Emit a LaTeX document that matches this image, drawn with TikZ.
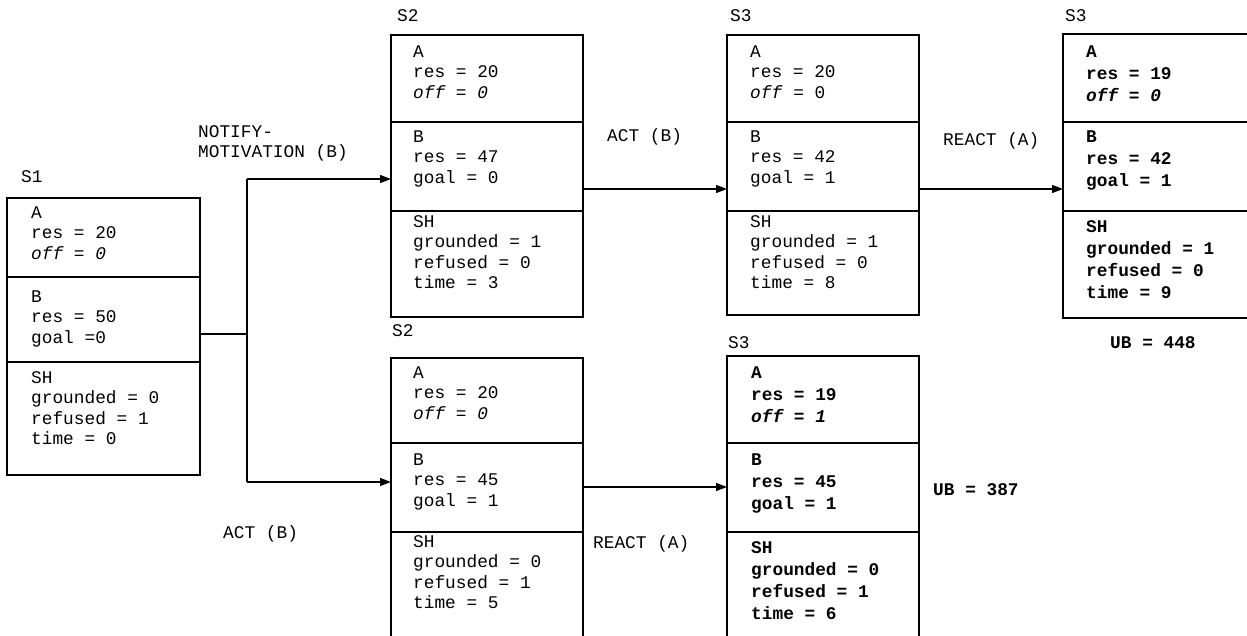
\documentclass[tikz,border=0pt]{standalone}
\usepackage{fontspec}
\setmonofont{Liberation Mono}
\usetikzlibrary{arrows.meta}
\newcommand\nfont{\fontsize{17.8}{20.5}\selectfont\ttfamily}
\newcommand\bfont{\fontsize{17.8}{22}\selectfont\ttfamily\bfseries}
\newcommand\fl{\rule{0pt}{14pt}}
\tikzset{
  sect/.style={draw, line width=1.2pt, inner sep=0pt, outer sep=0pt, anchor=north west, minimum width=#1},
  ntxt/.style={anchor=north west, inner sep=0pt, align=left, font=\nfont},
  btxt/.style={anchor=north west, inner sep=0pt, align=left, font=\bfont},
  lbl/.style={anchor=base west, inner sep=0pt, font=\nfont},
  blbl/.style={anchor=base west, inner sep=0pt, font=\bfont},
  conn/.style={line width=1.2pt},
  arr/.style={line width=1.2pt, -{Triangle[length=11pt,width=8pt]}}
}
\begin{document}
\begin{tikzpicture}[x=1pt,y=-1pt]
\useasboundingbox (0,0) rectangle (1247,636);
\fill[white] (0,0) rectangle (1247,636);
\clip (0,0) rectangle (1247,636);

% S1
\node[sect=193, minimum height=79] (s1a) at (7,198) {};
\node[sect=193, minimum height=85] (s1b) at (7,277) {};
\node[sect=193, minimum height=113] (s1c) at (7,362) {};
\node[ntxt] (t1a) at (31,204) {\fl A\\res = 20\\\textit{off = 0}};
\node[ntxt] (t1b) at (31,288) {\fl B\\res = 50\\goal =0};
\node[ntxt] (t1c) at (31,369) {\fl SH\\grounded = 0\\refused = 1\\time = 0};
\node[lbl] (l1) at (21,183) {S1};

% S2 top
\node[sect=192, minimum height=87] (s2ta) at (391,35) {};
\node[sect=192, minimum height=89] (s2tb) at (391,122) {};
\node[sect=192, minimum height=106] (s2tc) at (391,211) {};
\node[ntxt] (t2ta) at (413,43) {\fl A\\res = 20\\\textit{off = 0}};
\node[ntxt] (t2tb) at (413,128) {\fl B\\res = 47\\goal = 0};
\node[ntxt] (t2tc) at (413,213) {\fl SH\\grounded = 1\\refused = 0\\time = 3};
\node[lbl] (l2t) at (397,22) {S2};

% S3 top middle
\node[sect=192, minimum height=87] (s3ta) at (727,35) {};
\node[sect=192, minimum height=89] (s3tb) at (727,122) {};
\node[sect=192, minimum height=104] (s3tc) at (727,211) {};
\node[ntxt] (t3ta) at (750,43) {\fl A\\res = 20\\\textit{off} = 0};
\node[ntxt] (t3tb) at (750,128) {\fl B\\res = 42\\goal = 1};
\node[ntxt] (t3tc) at (750,213) {\fl SH\\grounded = 1\\refused = 0\\time = 8};
\node[lbl] (l3t) at (730,22) {S3};

% S3 top right (bold)
\node[sect=200, minimum height=88] (s3ra) at (1063,34) {};
\node[sect=200, minimum height=89] (s3rb) at (1063,122) {};
\node[sect=200, minimum height=107] (s3rc) at (1063,211) {};
\node[btxt] (t3ra) at (1086,43) {\fl A\\res = 19\\\textit{off = 0}};
\node[btxt] (t3rb) at (1086,128) {\fl B\\res = 42\\goal = 1};
\node[btxt] (t3rc) at (1086,218) {\fl SH\\grounded = 1\\refused = 0\\time = 9};
\node[lbl] (l3r) at (1065,22) {S3};
\node[blbl] (ub1) at (1110,348) {UB = 448};

% S2 bottom
\node[sect=192, minimum height=85] (s2ba) at (391,358) {};
\node[sect=192, minimum height=89] (s2bb) at (391,443) {};
\node[sect=192, minimum height=128] (s2bc) at (391,532) {};
\node[ntxt] (t2ba) at (413,364) {\fl A\\res = 20\\\textit{off = 0}};
\node[ntxt] (t2bb) at (413,451) {\fl B\\res = 45\\goal = 1};
\node[ntxt] (t2bc) at (413,533) {\fl SH\\grounded = 0\\refused = 1\\time = 5};
\node[lbl] (l2b) at (392,336) {S2};

% S3 bottom (bold)
\node[sect=192, minimum height=87] (s3ba) at (727,356) {};
\node[sect=192, minimum height=89] (s3bb) at (727,443) {};
\node[sect=192, minimum height=128] (s3bc) at (727,532) {};
\node[btxt] (t3ba) at (751,364) {\fl A\\res = 19\\\textit{off = 1}};
\node[btxt] (t3bb) at (751,451) {\fl B\\res = 45\\goal = 1};
\node[btxt] (t3bc) at (751,539) {\fl SH\\grounded = 0\\refused = 1\\time = 6};
\node[lbl] (l3b) at (728,348) {S3};
\node[blbl] (ub2) at (933,495) {UB = 387};

% edge labels
\node[ntxt] (e1) at (198,123) {\fl NOTIFY-\\MOTIVATION (B)};
\node[lbl] (e2) at (607,142) {ACT (B)};
\node[lbl] (e3) at (943,146) {REACT (A)};
\node[lbl] (e4) at (223,538) {ACT (B)};
\node[lbl] (e5) at (593,548) {REACT (A)};

% connectors
\coordinate (j) at (247,334);
\coordinate (jt) at (247,179);
\coordinate (jb) at (247,482);
\coordinate (r1) at (0,189);
\coordinate (r2) at (0,487);
\draw[conn] (s1b.east |- j) -- (j);
\draw[conn] (jt) -- (jb);
\draw[arr] (jt) -- (jt -| s2ta.west);
\draw[arr] (jb) -- (jb -| s2ba.west);
\draw[arr] (s2tb.east |- r1) -- (s3tb.west |- r1);
\draw[arr] (s3tb.east |- r1) -- (s3rb.west |- r1);
\draw[arr] (s2bb.east |- r2) -- (s3bb.west |- r2);
\end{tikzpicture}
\end{document}
